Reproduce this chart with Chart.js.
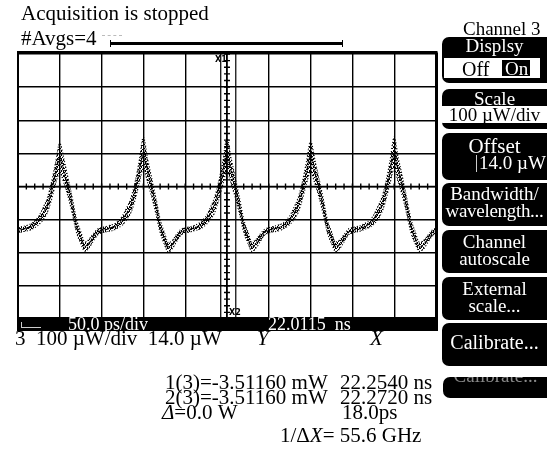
<!DOCTYPE html>
<html>
<head>
<meta charset="utf-8">
<script src="https://cdn.jsdelivr.net/npm/chart.js@4.4.1/dist/chart.umd.min.js"></script>
<style>
  html, body { margin: 0; padding: 0; background: #fff; }
  body { width: 547px; height: 449px; position: relative; overflow: hidden;
         font-family: "Liberation Serif", "DejaVu Serif", serif; color: #000; }
  #graf { position: absolute; left: 0; top: 0; }
  .t { position: absolute; white-space: pre; line-height: 1; }
  .btn { position: absolute; left: 442px; width: 105px; background: #000; color: #fff;
         border-radius: 7px 0 0 7px; overflow: hidden; }
  .btn .r { position: absolute; left: 0; width: 105px; text-align: center; white-space: pre; line-height: 1; }
  .lbl { position: absolute; font-family: "DejaVu Sans", sans-serif; font-size: 8px; line-height: 1; font-weight: bold; }
</style>
</head>
<body>
<canvas id="graf" width="547" height="449"></canvas>

<!-- horni texty -->
<div class="t" style="left:21px; top:3px; font-size:21px;">Acquisition is stopped</div>
<div class="t" style="left:21px; top:28px; font-size:21px;">#Avgs=4</div>
<div style="position:absolute; left:102px; top:35px; width:20px; border-top:1px dashed #bbb;"></div>
<div style="position:absolute; left:110px; top:42px; width:233px; height:3px; background:#000;"></div>
<div style="position:absolute; left:110px; top:40px; width:1px; height:7px; background:#000;"></div>
<div style="position:absolute; left:342px; top:40px; width:1px; height:7px; background:#000;"></div>

<!-- znacky kurzoru -->
<div class="lbl" style="left:215px; top:56px;">X1</div>
<div class="lbl" style="left:229px; top:309px;">X2</div>

<!-- spodni cerny pruh -->
<div style="position:absolute; left:17px; top:317px; width:420px; height:14px; background:#000; overflow:hidden;">
  <div style="position:absolute; left:4px; top:5px; width:19px; height:5px; border-left:1px solid #ccc; border-bottom:1px solid #ccc;"></div>
  <div class="t" style="left:51px; top:-2px; font-size:18px; color:#fff;">50.0 ps/div</div>
  <div class="t" style="left:251px; top:-2px; font-size:18px; color:#fff;">22.0115  ns</div>
</div>

<!-- texty pod grafem -->
<div class="t" style="left:15px; top:328px; font-size:21px;">3  100 µW/div  14.0 µW</div>
<div class="t" style="left:257px; top:328px; font-size:21px; font-style:italic;">Y</div>
<div class="t" style="left:370px; top:328px; font-size:21px; font-style:italic;">X</div>
<div class="t" style="left:165px; top:372px; font-size:21px;">1(3)=-3.51160 mW</div>
<div class="t" style="left:340px; top:372px; font-size:21px;">22.2540 ns</div>
<div class="t" style="left:165px; top:387px; font-size:21px;">2(3)=-3.51160 mW</div>
<div class="t" style="left:340px; top:387px; font-size:21px;">22.2720 ns</div>
<div class="t" style="left:162px; top:402px; font-size:21px;"><i>Δ</i>=0.0 W</div>
<div class="t" style="left:342px; top:402px; font-size:21px;">18.0ps</div>
<div class="t" style="left:280px; top:425px; font-size:21px;">1/Δ<i>X</i>= 55.6 GHz</div>

<!-- pravy panel -->
<div class="t" style="left:463px; top:19px; font-size:19px;">Channel 3</div>
<div class="btn" style="top:37px; height:46px;">
  <div class="r" style="top:-1px; font-size:19px;">Displsy</div>
  <div style="position:absolute; left:2px; top:21px; width:96px; height:20px; background:#fff;">
    <div class="t" style="left:18px; top:1px; font-size:20px; color:#000;">Off</div>
    <div style="position:absolute; left:58px; top:2px; width:28px; height:16px; background:#000;"></div>
    <div class="t" style="left:61px; top:1px; font-size:19px; color:#fff;">On</div>
  </div>
</div>
<div class="btn" style="top:89px; height:40px;">
  <div class="r" style="top:0px; font-size:19px;">Scale</div>
  <div style="position:absolute; left:0; top:17px; width:105px; height:17px; background:#fff;">
    <div class="r" style="top:-1px; font-size:19px; color:#000;">100 µW/div</div>
  </div>
</div>
<div class="btn" style="top:133px; height:47px;">
  <div class="r" style="top:3px; font-size:21px;">Offset</div>
  <div style="position:absolute; left:34px; top:22px; width:1px; height:17px; background:#ccc;"></div>
  <div class="t" style="left:37px; top:20px; font-size:19px;">14.0 µW</div>
</div>
<div class="btn" style="top:183px; height:43px;">
  <div class="r" style="top:1px; font-size:19px;">Bandwidth/</div>
  <div class="r" style="top:18px; font-size:19px; letter-spacing:-0.3px;">wavelength...</div>
</div>
<div class="btn" style="top:230px; height:43px;">
  <div class="r" style="top:2px; font-size:19px;">Channel</div>
  <div class="r" style="top:19px; font-size:19px;">autoscale</div>
</div>
<div class="btn" style="top:277px; height:43px;">
  <div class="r" style="top:2px; font-size:19px;">External</div>
  <div class="r" style="top:19px; font-size:19px;">scale...</div>
</div>
<div class="btn" style="top:323px; height:43px;">
  <div class="r" style="top:9px; font-size:20px;">Calibrate...</div>
</div>
<div class="btn" style="top:377px; height:21px; left:443px; width:104px;">
  <div class="r" style="top:-11px; font-size:19px; color:#888;">Calibrate...</div>
</div>

<script>
// Casova osa v ps od leveho okraje obrazovky (22.0115 ns), 50 ps/dilek
const timePs = [
  0, 5, 10, 15, 20, 25, 30, 35, 40, 45, 50, 55, 60, 65, 70, 75, 80, 85, 90, 95,
  100, 105, 110, 115, 120, 125, 130, 135, 140, 145, 150, 155, 160, 165, 170, 175, 180, 185, 190, 195,
  200, 205, 210, 215, 220, 225, 230, 235, 240, 245, 250, 255, 260, 265, 270, 275, 280, 285, 290, 295,
  300, 305, 310, 315, 320, 325, 330, 335, 340, 345, 350, 355, 360, 365, 370, 375, 380, 385, 390, 395,
  400, 405, 410, 415, 420, 425, 430, 435, 440, 445, 450, 455, 460, 465, 470, 475, 480, 485, 490, 495,
  500
];
// Stredni hodnota stopy (µW)
const powerUw = [
  -118, -115, -112, -108, -100, -88, -68, -43, 0, 55, 100, 60, 10, -45, -105, -140, -168, -158, -140, -124,
  -118, -115, -112, -108, -100, -88, -68, -43, 0, 58, 115, 62, 10, -45, -105, -142, -170, -160, -140, -124,
  -118, -116, -112, -108, -100, -88, -68, -43, 0, 55, 110, 60, 10, -45, -105, -140, -168, -158, -140, -124,
  -118, -115, -112, -108, -100, -88, -68, -43, 0, 55, 105, 60, 10, -45, -105, -140, -168, -160, -142, -124,
  -118, -115, -112, -106, -100, -88, -68, -43, 0, 58, 115, 62, 12, -45, -105, -140, -168, -162, -145, -128,
  -120
];
// Polovicni sire sumoveho pasu (µW)
const noiseUw = [
  8, 8, 8, 9, 10, 13, 18, 22, 26, 32, 45, 36, 28, 24, 20, 18, 14, 13, 11, 9,
  8, 8, 9, 9, 10, 14, 18, 22, 27, 34, 48, 36, 28, 24, 20, 18, 14, 12, 11, 9,
  8, 8, 8, 9, 11, 13, 18, 23, 28, 35, 50, 38, 30, 24, 20, 17, 14, 13, 11, 9,
  8, 8, 9, 9, 10, 13, 18, 22, 26, 33, 46, 36, 28, 24, 20, 18, 15, 13, 11, 9,
  8, 8, 8, 9, 10, 14, 19, 22, 27, 34, 48, 37, 29, 24, 21, 18, 14, 13, 11, 9,
  9
];
// Mrizka: 10 dilku po 50 ps, 8 dilku po 100 µW, offset 14.0 µW ve stredu
const xGridPs = [0, 50, 100, 150, 200, 250, 300, 350, 400, 450, 500];
const yGridUw = [-386, -286, -186, -86, 14, 114, 214, 314, 414];
const cursorXPs = [242.5, 260.5];

window.addEventListener("DOMContentLoaded", function() {
    const stred = timePs.map((t, i) => ({ x: t, y: powerUw[i] }));
    const horni = timePs.map((t, i) => ({ x: t, y: powerUw[i] + noiseUw[i] }));
    const dolni = timePs.map((t, i) => ({ x: t, y: powerUw[i] - noiseUw[i] }));

    // Teckovany vzor pro sumovy pas (vzorky osciloskopu)
    const vzor = document.createElement("canvas");
    vzor.width = 4; vzor.height = 4;
    const vc = vzor.getContext("2d");
    vc.fillStyle = "#000";
    [[0, 0], [2, 1], [1, 2], [3, 3], [3, 0], [1, 3]].forEach(p => vc.fillRect(p[0], p[1], 1, 1));
    const tecky = vc.createPattern(vzor, "repeat");

    // Ramecek, osovy kriz s drobnymi znackami a kurzory
    const obrazovka = {
        id: "obrazovka",
        afterDatasetsDraw(chart) {
            const ctx = chart.ctx;
            const a = chart.chartArea;
            const sx = chart.scales.x, sy = chart.scales.y;
            ctx.save();
            ctx.strokeStyle = "#000";

            const cx = sx.getPixelForValue(xGridPs[5]);
            const cy = sy.getPixelForValue(yGridUw[4]);
            ctx.lineWidth = 1.4;
            ctx.beginPath();
            ctx.moveTo(a.left, cy); ctx.lineTo(a.right, cy);
            ctx.moveTo(cx, a.top); ctx.lineTo(cx, a.bottom);
            for (let k = 0; k <= 50; k++) {
                const px = sx.getPixelForValue(xGridPs[0] + k * 10);
                ctx.moveTo(px, cy - 3); ctx.lineTo(px, cy + 3);
            }
            for (let k = 0; k <= 40; k++) {
                const py = sy.getPixelForValue(yGridUw[0] + k * 20);
                ctx.moveTo(cx - 3, py); ctx.lineTo(cx + 3, py);
            }
            ctx.stroke();

            ctx.lineWidth = 1.2;
            ctx.beginPath();
            cursorXPs.forEach(function(v) {
                const px = sx.getPixelForValue(v);
                ctx.moveTo(px, a.top); ctx.lineTo(px, a.bottom);
            });
            ctx.stroke();

            ctx.lineWidth = 3;
            ctx.beginPath();
            ctx.moveTo(a.left - 1, a.top - 1.5); ctx.lineTo(a.right + 1.5, a.top - 1.5);
            ctx.moveTo(a.right + 0.5, a.top - 1.5); ctx.lineTo(a.right + 0.5, a.bottom + 12);
            ctx.stroke();
            ctx.lineWidth = 2;
            ctx.beginPath();
            ctx.moveTo(a.left, a.top - 1.5); ctx.lineTo(a.left, a.bottom + 12);
            ctx.stroke();
            ctx.restore();
        }
    };

    new Chart(document.getElementById("graf"), {
        type: "line",
        data: {
            datasets: [
                { data: horni, borderColor: "#000", borderWidth: 1.2, borderDash: [1, 2],
                  backgroundColor: tecky, fill: "+1",
                  pointRadius: 0, cubicInterpolationMode: "monotone" },
                { data: dolni, borderColor: "#000", borderWidth: 1.2, borderDash: [1, 2],
                  pointRadius: 0, cubicInterpolationMode: "monotone" },
                { data: stred, borderColor: "#000", borderWidth: 2, borderDash: [1.5, 1],
                  pointRadius: 0, cubicInterpolationMode: "monotone" }
            ]
        },
        options: {
            responsive: false,
            animation: false,
            events: [],
            layout: { padding: { left: 18, right: 111, top: 54, bottom: 130 } },
            plugins: { legend: { display: false }, tooltip: { enabled: false } },
            scales: {
                x: {
                    type: "linear", min: xGridPs[0], max: xGridPs[xGridPs.length - 1],
                    afterBuildTicks: s => { s.ticks = xGridPs.map(v => ({ value: v })); },
                    ticks: { display: false },
                    grid: { color: "#000", lineWidth: 1.4, drawTicks: false },
                    border: { display: false }
                },
                y: {
                    type: "linear", min: yGridUw[0], max: yGridUw[yGridUw.length - 1],
                    afterBuildTicks: s => { s.ticks = yGridUw.map(v => ({ value: v })); },
                    ticks: { display: false },
                    grid: { color: "#000", lineWidth: 1.4, drawTicks: false },
                    border: { display: false }
                }
            }
        },
        plugins: [obrazovka]
    });
});
</script>
</body>
</html>
